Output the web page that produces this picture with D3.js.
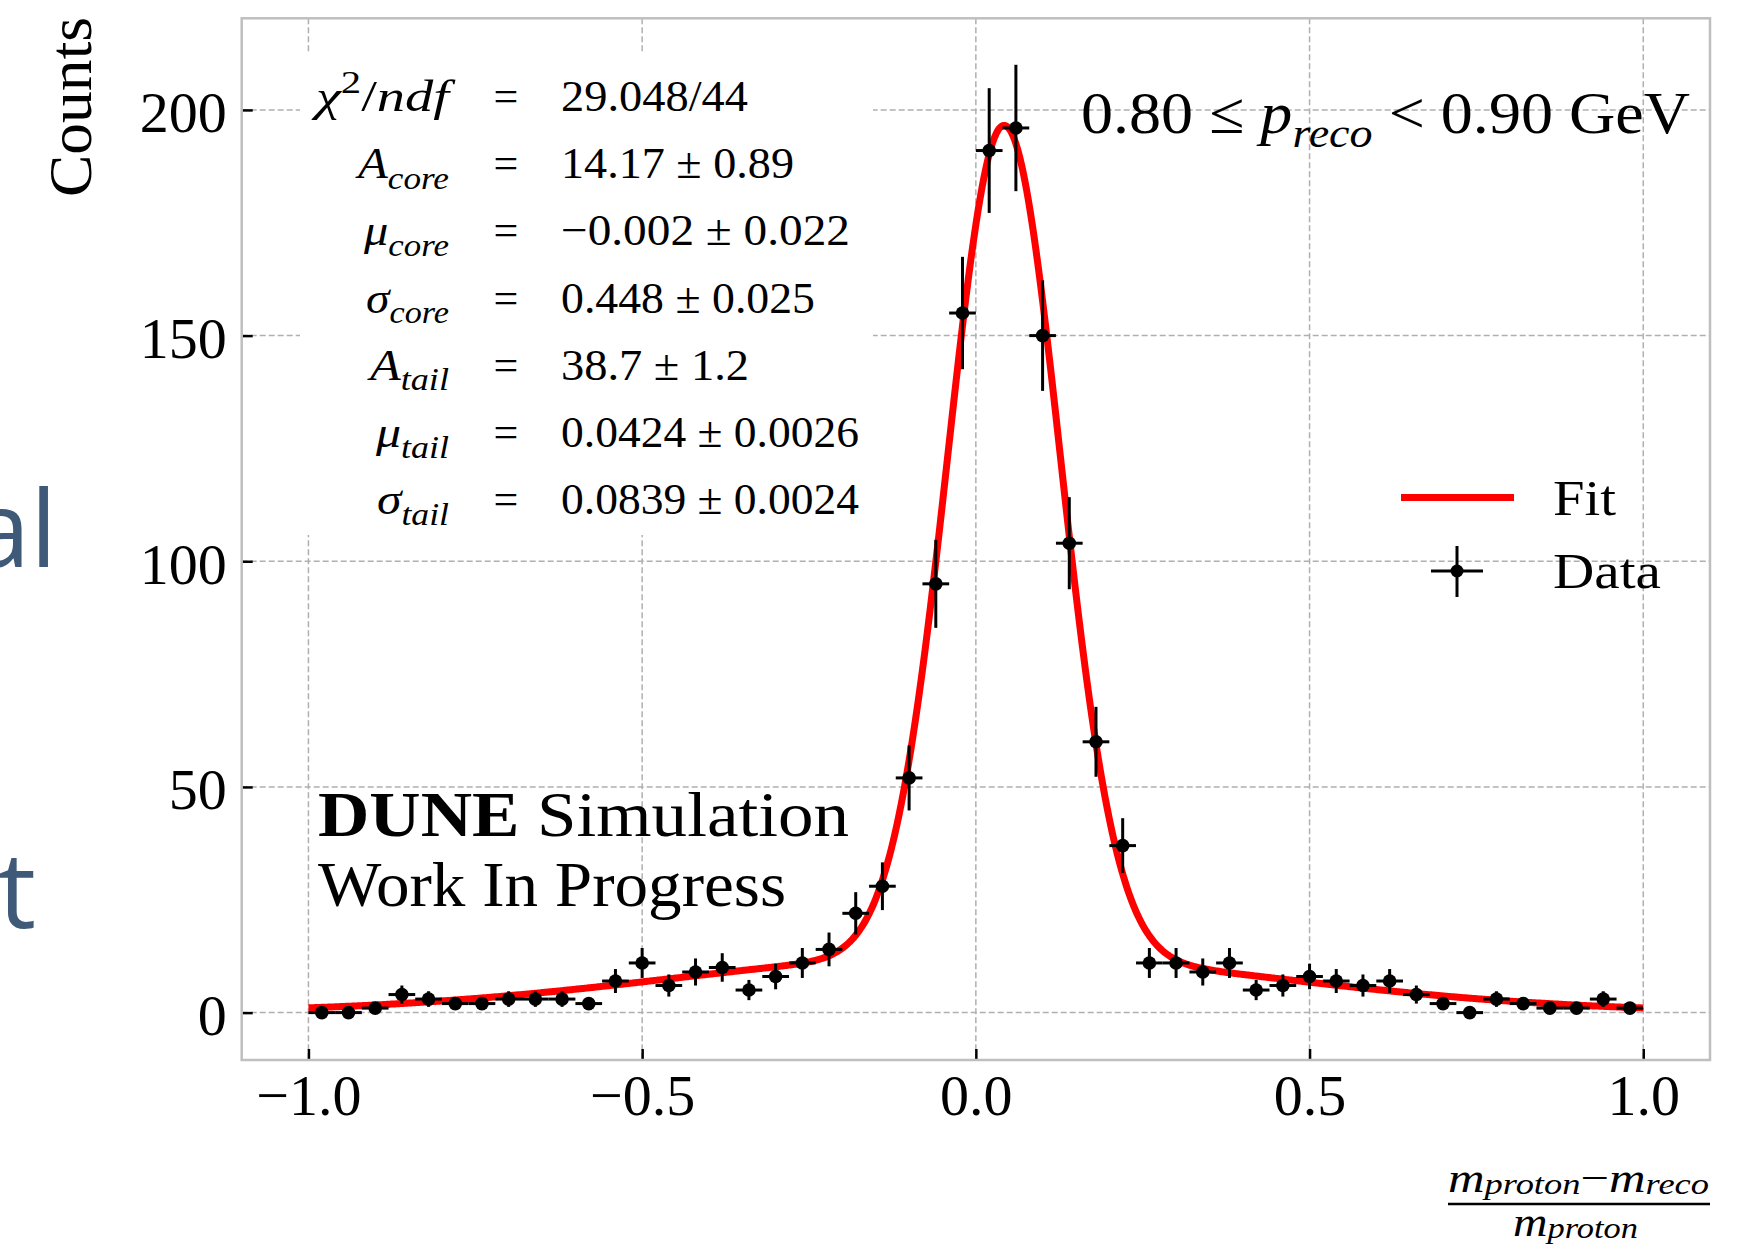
<!DOCTYPE html>
<html>
<head>
<meta charset="utf-8">
<script src="https://cdn.jsdelivr.net/npm/d3@7"></script>
<style>
  html, body { margin: 0; padding: 0; background: #ffffff; }
  svg { display: block; }
  text { font-family: "Liberation Serif", "Times New Roman", serif; fill: #000; }
  text.slide { font-family: "Open Sans", "Noto Sans", sans-serif; fill: #3e5a78; }
</style>
</head>
<body>
<svg id="chart" width="1737" height="1249"></svg>
<script>
// Histogram bins of (m_proton - m_reco) / m_proton, bin width 0.04
const binCenters = [-0.98, -0.94, -0.90, -0.86, -0.82, -0.78, -0.74, -0.70, -0.66, -0.62,
                    -0.58, -0.54, -0.50, -0.46, -0.42, -0.38, -0.34, -0.30, -0.26, -0.22,
                    -0.18, -0.14, -0.10, -0.06, -0.02, 0.02, 0.06, 0.10, 0.14, 0.18,
                    0.22, 0.26, 0.30, 0.34, 0.38, 0.42, 0.46, 0.50, 0.54, 0.58,
                    0.62, 0.66, 0.70, 0.74, 0.78, 0.82, 0.86, 0.90, 0.94, 0.98];
const counts = [0, 0, 1, 4, 3, 2, 2, 3, 3, 3,
                2, 7, 11, 6, 9, 10, 5, 8, 11, 14,
                22, 28, 52, 95, 155, 191, 196, 150, 104, 60,
                37, 11, 11, 9, 11, 5, 6, 8, 7, 6,
                7, 4, 2, 0, 3, 2, 1, 1, 3, 1];
const countErrors = [0, 0, 1, 2, 1.73, 1.41, 1.41, 1.73, 1.73, 1.73,
                     1.41, 2.65, 3.32, 2.45, 3, 3.16, 2.24, 2.83, 3.32, 3.74,
                     4.69, 5.29, 7.21, 9.75, 12.45, 13.82, 14, 12.25, 10.2, 7.75,
                     6.08, 3.32, 3.32, 3, 3.32, 2.24, 2.45, 2.83, 2.65, 2.45,
                     2.65, 2, 1.41, 0, 1.73, 1.41, 1, 1, 1.73, 1];
const binHalfWidth = 0.02;

// Fit result: double Gaussian (core + tail)
const fitAmplitudes = [14.17, 38.7];
const fitMeans = [-0.002, 0.0424];
const fitSigmas = [0.448, 0.0839];
const fitRange = [-1.0, 1.0];

const xTicks = [-1.0, -0.5, 0.0, 0.5, 1.0];
const yTicks = [0, 50, 100, 150, 200];
const xTickLabels = ["\u22121.0", "\u22120.5", "0.0", "0.5", "1.0"];
const yTickLabels = ["0", "50", "100", "150", "200"];

// Fit statistics box
const statSymbols = ["\u03c7", "A", "\u03bc", "\u03c3", "A", "\u03bc", "\u03c3"];
const statSubscripts = ["", "core", "core", "core", "tail", "tail", "tail"];
const statValues = ["29.048/44", "14.17 \u00b1 0.89", "\u22120.002 \u00b1 0.022", "0.448 \u00b1 0.025",
                    "38.7 \u00b1 1.2", "0.0424 \u00b1 0.0026", "0.0839 \u00b1 0.0024"];
const legendLabels = ["Fit", "Data"];

// typeset widths (px) used to keep the serif math layout
const statLabelWidths = [133, 91, 85, 83, 79, 73, 72];
const statValueWidths = [187, 233, 289, 254, 188, 298, 298];
const legendWidths = [63, 108];

// ---------------------------------------------------------------
const plot = { left: 241.7, right: 1710, top: 18.3, bottom: 1060 };

const svg = d3.select("#chart");

const x = d3.scaleLinear().domain([-1.1, 1.1]).range([plot.left, plot.right]);
const y = d3.scaleLinear().domain([-10.5, 220.3]).range([plot.bottom, plot.top]);

// gridlines
const grid = svg.append("g").attr("class", "grid")
  .attr("stroke", "#b0b0b0").attr("stroke-width", 1.5).attr("stroke-dasharray", "6,3");
grid.selectAll("line.v").data(xTicks).join("line").attr("class", "v")
  .attr("x1", d => x(d)).attr("x2", d => x(d))
  .attr("y1", plot.top).attr("y2", plot.bottom);
grid.selectAll("line.h").data(yTicks).join("line").attr("class", "h")
  .attr("x1", plot.left).attr("x2", plot.right)
  .attr("y1", d => y(d)).attr("y2", d => y(d));

// fit curve
function fitModel(v) {
  let s = 0;
  for (let i = 0; i < fitAmplitudes.length; i++) {
    const z = (v - fitMeans[i]) / fitSigmas[i];
    s += fitAmplitudes[i] / (fitSigmas[i] * Math.sqrt(2 * Math.PI)) * Math.exp(-0.5 * z * z);
  }
  return s;
}
const fitX = d3.range(fitRange[0], fitRange[1] + 1e-9, 0.002);
svg.append("path")
  .datum(fitX)
  .attr("fill", "none")
  .attr("stroke", "#ff0000")
  .attr("stroke-width", 7)
  .attr("stroke-linejoin", "round")
  .attr("d", d3.line().x(d => x(d)).y(d => y(fitModel(d))));

// data points with error bars
const pts = svg.append("g").attr("class", "data");
const dataRows = binCenters.map((c, i) => ({ c, n: counts[i], e: countErrors[i] }));
pts.selectAll("line.xerr").data(dataRows).join("line").attr("class", "xerr")
  .attr("x1", d => x(d.c - binHalfWidth)).attr("x2", d => x(d.c + binHalfWidth))
  .attr("y1", d => y(d.n)).attr("y2", d => y(d.n))
  .attr("stroke", "#000").attr("stroke-width", 3);
pts.selectAll("line.yerr").data(dataRows.filter(d => d.e > 0)).join("line").attr("class", "yerr")
  .attr("x1", d => x(d.c)).attr("x2", d => x(d.c))
  .attr("y1", d => y(d.n - d.e)).attr("y2", d => y(d.n + d.e))
  .attr("stroke", "#000").attr("stroke-width", 3);
pts.selectAll("circle").data(dataRows).join("circle")
  .attr("cx", d => x(d.c)).attr("cy", d => y(d.n)).attr("r", 6.8).attr("fill", "#000");

// axes (ticks point inward)
const xAxis = svg.append("g").attr("transform", `translate(0,${plot.bottom})`)
  .call(d3.axisBottom(x).tickValues(xTicks).tickFormat((d, i) => xTickLabels[i])
        .tickSizeInner(-11).tickSizeOuter(0));
const yAxis = svg.append("g").attr("transform", `translate(${plot.left},0)`)
  .call(d3.axisLeft(y).tickValues(yTicks).tickFormat((d, i) => yTickLabels[i])
        .tickSizeInner(-11).tickSizeOuter(0));
[xAxis, yAxis].forEach(a => {
  a.select(".domain").remove();
  a.selectAll(".tick line").attr("stroke", "#000").attr("stroke-width", 2.5);
  a.selectAll(".tick text").attr("font-family", "Liberation Serif").attr("font-size", 58).attr("fill", "#000");
});
xAxis.selectAll(".tick text").attr("y", 55).attr("dy", null);
yAxis.selectAll(".tick text").attr("x", -15).attr("dy", "0.38em");

// frame
svg.append("rect")
  .attr("x", plot.left).attr("y", plot.top)
  .attr("width", plot.right - plot.left).attr("height", plot.bottom - plot.top)
  .attr("fill", "none").attr("stroke", "#bfbfbf").attr("stroke-width", 2.5);

// helper to write simple math with italic, sub- and superscripts
function mathText(sel, parts, fs, subShift = 0.24) {
  let cur = 0;
  parts.forEach(p => {
    const ts = sel.append("tspan").text(p.t);
    if (p.it) ts.attr("font-style", "italic");
    let target = 0;
    if (p.sub) { target = fs * subShift; ts.attr("font-size", fs * 0.72); }
    if (p.sup) { target = -fs * 0.4; ts.attr("font-size", fs * 0.72); }
    if (target !== cur) { ts.attr("dy", target - cur); cur = target; }
  });
}

// fit statistics box (white background)
svg.append("rect").attr("x", 300).attr("y", 53).attr("width", 573).attr("height", 482).attr("fill", "#fff");
const statFs = 44, statY0 = 111, statStep = 67.2;
statSymbols.forEach((s, i) => {
  const yy = statY0 + i * statStep;
  const t = svg.append("text").attr("x", 449).attr("y", yy)
    .attr("text-anchor", "end").attr("font-size", statFs)
    .attr("textLength", statLabelWidths[i]).attr("lengthAdjust", "spacingAndGlyphs");
  if (i === 0) {
    mathText(t, [{ t: s, it: true }, { t: "2", sup: true }, { t: "/" }, { t: "ndf", it: true }], statFs);
  } else {
    mathText(t, [{ t: s, it: true }, { t: statSubscripts[i], it: true, sub: true }], statFs);
  }
  svg.append("text").attr("x", 506).attr("y", yy).attr("text-anchor", "middle")
    .attr("font-size", statFs).text("=");
  svg.append("text").attr("x", 561).attr("y", yy).attr("font-size", statFs)
    .attr("textLength", statValueWidths[i]).attr("lengthAdjust", "spacingAndGlyphs")
    .text(statValues[i]);
});

// momentum range label
const rangeText = svg.append("text").attr("x", 1690).attr("y", 133)
  .attr("text-anchor", "end").attr("font-size", 59)
  .attr("textLength", 609).attr("lengthAdjust", "spacingAndGlyphs");
mathText(rangeText, [{ t: "0.80 \u2264 " }, { t: "p", it: true }, { t: "reco", it: true, sub: true },
                     { t: " < 0.90 GeV" }], 59);

// DUNE label
const dune = svg.append("text").attr("x", 318).attr("y", 836).attr("font-size", 63)
  .attr("textLength", 531).attr("lengthAdjust", "spacingAndGlyphs");
dune.append("tspan").attr("font-weight", "bold").text("DUNE");
dune.append("tspan").text(" Simulation");
svg.append("text").attr("x", 318).attr("y", 906).attr("font-size", 63)
  .attr("textLength", 468).attr("lengthAdjust", "spacingAndGlyphs")
  .text("Work In Progress");

// legend
const leg = svg.append("g");
leg.append("line").attr("x1", 1401).attr("x2", 1514).attr("y1", 497.5).attr("y2", 497.5)
  .attr("stroke", "#ff0000").attr("stroke-width", 7);
leg.append("text").attr("x", 1553).attr("y", 515).attr("font-size", 51)
  .attr("textLength", legendWidths[0]).attr("lengthAdjust", "spacingAndGlyphs").text(legendLabels[0]);
leg.append("line").attr("x1", 1431).attr("x2", 1483).attr("y1", 571).attr("y2", 571)
  .attr("stroke", "#000").attr("stroke-width", 3);
leg.append("line").attr("x1", 1457).attr("x2", 1457).attr("y1", 546).attr("y2", 597)
  .attr("stroke", "#000").attr("stroke-width", 3);
leg.append("circle").attr("cx", 1457).attr("cy", 571).attr("r", 6.5).attr("fill", "#000");
leg.append("text").attr("x", 1553).attr("y", 588).attr("font-size", 51)
  .attr("textLength", legendWidths[1]).attr("lengthAdjust", "spacingAndGlyphs").text(legendLabels[1]);

// axis titles
svg.append("text")
  .attr("transform", "translate(91,17) rotate(-90)")
  .attr("text-anchor", "end").attr("font-size", 62)
  .attr("textLength", 180).attr("lengthAdjust", "spacingAndGlyphs")
  .text("Counts");

const numer = svg.append("text").attr("x", 1448).attr("y", 1192).attr("font-size", 42)
  .attr("textLength", 261).attr("lengthAdjust", "spacingAndGlyphs");
mathText(numer, [{ t: "m", it: true }, { t: "proton", it: true, sub: true }, { t: "\u2212" },
                 { t: "m", it: true }, { t: "reco", it: true, sub: true }], 42, 0.05);
svg.append("line").attr("x1", 1448).attr("x2", 1710).attr("y1", 1204).attr("y2", 1204)
  .attr("stroke", "#000").attr("stroke-width", 2.7);
const denom = svg.append("text").attr("x", 1513).attr("y", 1236).attr("font-size", 42)
  .attr("textLength", 125).attr("lengthAdjust", "spacingAndGlyphs");
mathText(denom, [{ t: "m", it: true }, { t: "proton", it: true, sub: true }], 42, 0.05);

// slide text partly visible at the left edge
svg.append("text").attr("class", "slide").attr("x", 57).attr("y", 567)
  .attr("text-anchor", "end").attr("font-size", 106).text("al");
svg.append("text").attr("class", "slide").attr("x", 36).attr("y", 928)
  .attr("text-anchor", "end").attr("font-size", 106).text("t");
</script>
</body>
</html>
